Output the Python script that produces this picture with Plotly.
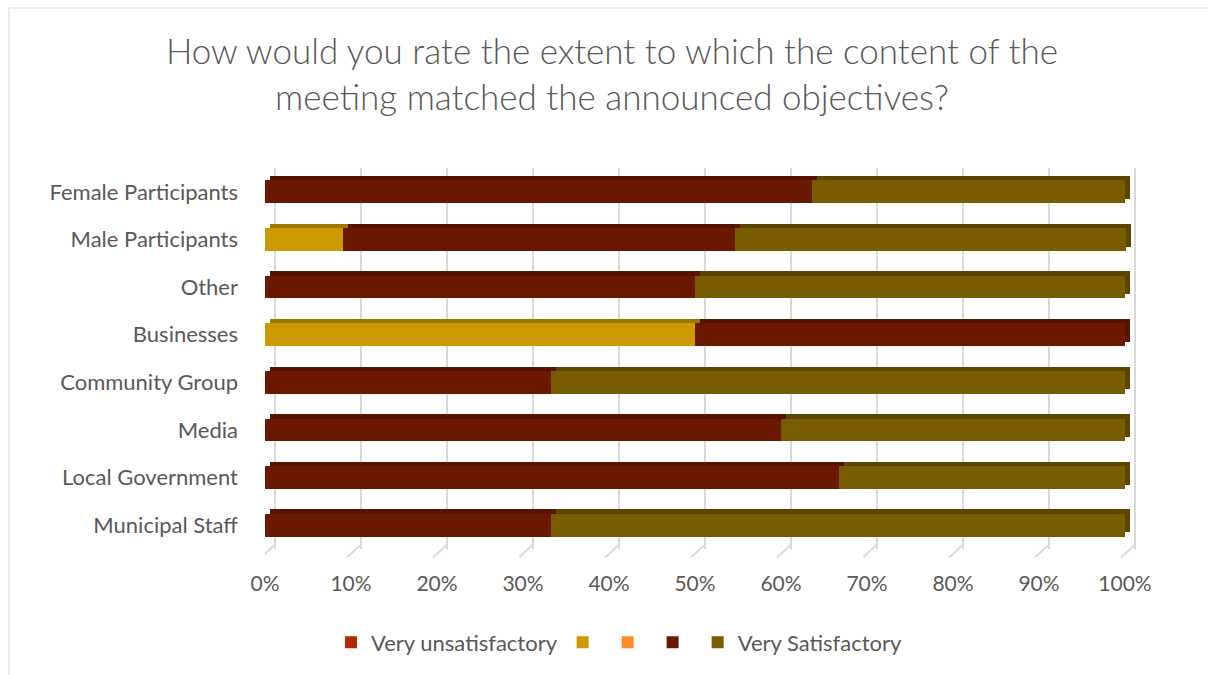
import plotly.graph_objects as go

categories = ["Female Participants", "Male Participants", "Other", "Businesses",
              "Community Group", "Media", "Local Government", "Municipal Staff"]

series_names = ["Very unsatisfactory", "", "", "", "Very Satisfactory"]
very_unsat = [0, 0, 0, 0, 0, 0, 0, 0]
unsat = [0, 0.091, 0, 0.50, 0, 0, 0, 0]
neutral = [0, 0, 0, 0, 0, 0, 0, 0]
sat = [0.636, 0.455, 0.50, 0.50, 0.333, 0.60, 0.667, 0.333]
very_sat = [0.364, 0.455, 0.50, 0, 0.667, 0.40, 0.333, 0.667]

colors = ["#B22A00", "#CC9900", "#FF8A2A", "#6B1800", "#7A5C00"]
face_colors = ["#8A2000", "#A07800", "#C86A20", "#561300", "#5C4500"]
values = [very_unsat, unsat, neutral, sat, very_sat]

tick_vals = [0, 0.1, 0.2, 0.3, 0.4, 0.5, 0.6, 0.7, 0.8, 0.9, 1.0]
tick_text = ["0%", "10%", "20%", "30%", "40%", "50%", "60%", "70%", "80%", "90%", "100%"]

n = len(categories)
fig = go.Figure()
# invisible helper so the back-wall grid axis is drawn
fig.add_trace(go.Scatter(x=[tick_vals[0]], y=[categories[0]], mode="markers",
                         marker=dict(opacity=0), showlegend=False, hoverinfo="skip",
                         xaxis="x", yaxis="y"))
# 3-D depth faces (darker copies slightly offset up/right)
for name, vals, col in zip(series_names, values, face_colors):
    fig.add_trace(go.Bar(
        y=categories, x=vals, orientation="h", showlegend=False,
        marker=dict(color=col, line=dict(width=0)),
        hoverinfo="skip", xaxis="x2", yaxis="y2",
    ))
# front faces
for name, vals, col in zip(series_names, values, colors):
    fig.add_trace(go.Bar(
        y=categories, x=vals, name=name, orientation="h",
        marker=dict(color=col, line=dict(width=0)),
        hoverinfo="x+y", xaxis="x3", yaxis="y",
    ))

font_family = "Lato, 'Open Sans', sans-serif"
ext = 1.01512          # plot area a bit wider than the 0-100% span (room for depth)
grid_shift = 0.01163   # back-wall grid offset
face_dx = 0.00581
face_dy = 0.09

# floor "depth" stubs under each gridline
stubs = [dict(type="line", xref="x", yref="paper", x0=v, x1=v - 0.016,
              y0=0.012, y1=-0.022, line=dict(color="#D9D9D9", width=2), layer="below")
         for v in tick_vals]

fig.update_layout(
    barmode="stack",
    bargap=0.52,
    width=1208, height=675,
    paper_bgcolor="white", plot_bgcolor="white",
    margin=dict(l=265, r=70, t=168, b=126),
    title=dict(
        text="How would you rate the extent to which the content of the<br>meeting matched the announced objectives?",
        x=0.5066, xanchor="center", y=0.905, yanchor="middle",
        font=dict(family=font_family, size=35, color="#595959", weight=300),
    ),
    xaxis=dict(
        range=[-grid_shift, ext - grid_shift], tickvals=tick_vals,
        showticklabels=False, showgrid=True, gridcolor="#D9D9D9", gridwidth=2,
        zeroline=False, showline=False,
    ),
    xaxis2=dict(
        overlaying="x", anchor="y2", side="bottom",
        range=[-face_dx, ext - face_dx], showticklabels=False,
        showgrid=False, zeroline=False, showline=False,
    ),
    xaxis3=dict(
        overlaying="x", anchor="y", side="bottom",
        range=[0, ext], tickvals=tick_vals, ticktext=tick_text,
        showgrid=False, zeroline=False, showline=False,
        tickfont=dict(family=font_family, size=21, color="#595959"),
        ticklabelstandoff=20,
    ),
    yaxis=dict(
        range=[n - 0.5, -0.5], showgrid=False, showline=False,
        tickfont=dict(family=font_family, size=22, color="#595959"),
        ticklabelstandoff=26,
    ),
    yaxis2=dict(
        overlaying="y", anchor="x2",
        range=[n - 0.5 + face_dy, -0.5 + face_dy], showticklabels=False,
        showgrid=False, zeroline=False, showline=False,
    ),
    legend=dict(
        orientation="h", x=0.0756, xanchor="left", y=-0.245, yanchor="middle",
        font=dict(family=font_family, size=22, color="#595959"),
        traceorder="normal",
    ),
    shapes=[dict(type="rect", xref="paper", yref="paper",
                 x0=-0.2932, x1=1.3, y0=-0.6, y1=1.42,
                 line=dict(color="#D9D9D9", width=1), fillcolor="rgba(0,0,0,0)",
                 layer="below")] + stubs,
)

fig.write_html("out.html", config={"displayModeBar": False},
               post_script="document.body.style.margin='0';document.body.style.overflow='hidden';")
